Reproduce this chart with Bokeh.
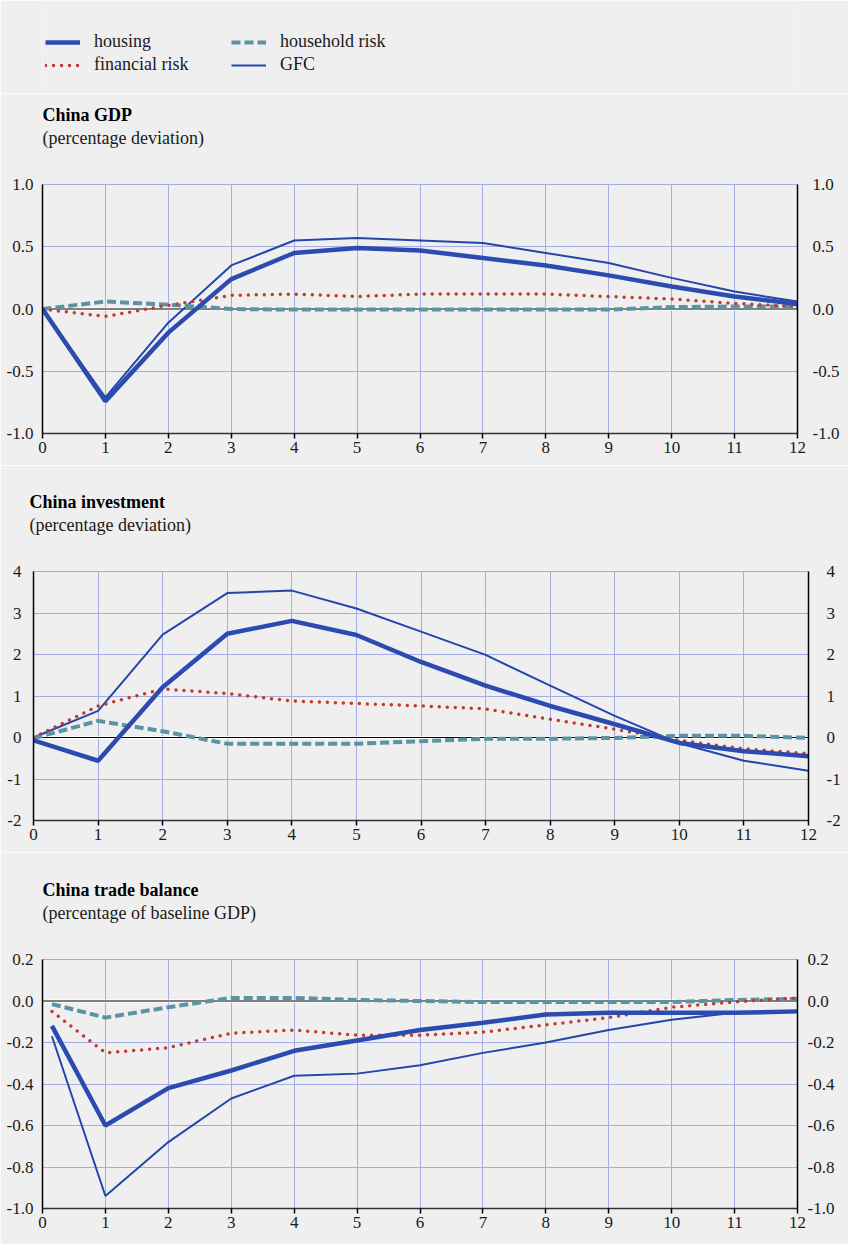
from bokeh.plotting import figure
from bokeh.models import (Legend, LegendItem, LinearAxis, FixedTicker,
                          PrintfTickFormatter, Span, Title, Range1d)
from bokeh.layouts import column
from bokeh.embed import file_html
from bokeh.resources import INLINE

# ---------------- data ----------------
quarters = list(range(13))
trade_quarters = [0.15] + list(range(1, 13))

series_names = ["housing", "financial risk", "household risk", "GFC"]

gdp_housing = [0.0, -0.74, -0.19, 0.24, 0.45, 0.49, 0.47, 0.41, 0.35, 0.27, 0.18, 0.10, 0.04]
gdp_financial = [0.0, -0.06, 0.03, 0.11, 0.12, 0.10, 0.12, 0.12, 0.12, 0.10, 0.08, 0.045, 0.02]
gdp_household = [0.0, 0.06, 0.035, 0.0, -0.005, -0.005, -0.005, -0.005, -0.005, -0.005, 0.015, 0.02, 0.02]
gdp_gfc = [0.0, -0.71, -0.11, 0.35, 0.55, 0.57, 0.55, 0.53, 0.45, 0.37, 0.25, 0.14, 0.06]

inv_housing = [-0.07, -0.56, 1.21, 2.50, 2.81, 2.47, 1.82, 1.25, 0.76, 0.32, -0.13, -0.33, -0.45]
inv_financial = [0.0, 0.76, 1.17, 1.06, 0.88, 0.82, 0.76, 0.69, 0.44, 0.20, -0.07, -0.27, -0.39]
inv_household = [-0.02, 0.40, 0.15, -0.15, -0.15, -0.15, -0.09, -0.03, -0.03, -0.01, 0.04, 0.04, -0.01]
inv_gfc = [0.0, 0.64, 2.48, 3.48, 3.54, 3.11, 2.55, 1.99, 1.25, 0.52, -0.14, -0.56, -0.80]

trade_housing = [-0.12, -0.60, -0.42, -0.335, -0.24, -0.19, -0.14, -0.105, -0.065, -0.057, -0.057, -0.057, -0.05]
trade_financial = [-0.05, -0.25, -0.225, -0.155, -0.14, -0.165, -0.165, -0.15, -0.115, -0.08, -0.03, -0.005, 0.015]
trade_household = [-0.015, -0.08, -0.03, 0.015, 0.015, 0.005, 0.0, -0.005, -0.005, -0.005, -0.005, 0.005, 0.01]
trade_gfc = [-0.17, -0.94, -0.68, -0.47, -0.36, -0.35, -0.31, -0.25, -0.20, -0.14, -0.09, -0.057, -0.05]

gdp_ticks = [-1.0, -0.5, 0.0, 0.5, 1.0]
inv_ticks = [-2, -1, 0, 1, 2, 3, 4]
trade_ticks = [-1.0, -0.8, -0.6, -0.4, -0.2, 0.0, 0.2]

# ---------------- styles ----------------
BG = "#efefef"
FONT = "Liberation Serif"
GRID = "#a4ace6"
STYLES = {
    "housing": dict(line_color="#2b4bb0", line_width=4.5),
    "financial risk": dict(line_color="#bf3b2c", line_width=3.5, line_dash="0 8", line_cap="round"),
    "household risk": dict(line_color="#5b93a4", line_width=4, line_dash="9 4"),
    "GFC": dict(line_color="#2446ab", line_width=2),
}

# ---------------- legend figure ----------------
# the series are drawn off-view here; only their legend glyphs show
leg = figure(width=848, height=93, x_range=Range1d(40, 41), y_range=Range1d(40, 41),
             toolbar_location=None, output_backend="svg", min_border=0,
             x_axis_location=None, y_axis_location=None, title=None,
             background_fill_color=BG, border_fill_color=BG)
leg.grid.visible = False
leg.outline_line_color = None
leg_data = {"housing": gdp_housing, "financial risk": gdp_financial,
            "household risk": gdp_household, "GFC": gdp_gfc}
rends = {n: leg.line(x=quarters, y=leg_data[n], **STYLES[n]) for n in series_names}


def make_legend(names, loc):
    return Legend(items=[LegendItem(label=n, renderers=[rends[n]]) for n in names],
                  location=loc, orientation="vertical",
                  label_text_font=FONT, label_text_font_size="18px",
                  label_text_color="#1a1a1a",
                  glyph_width=35, glyph_height=20, label_height=20,
                  label_standoff=14, spacing=2, padding=0, margin=0,
                  border_line_color=None, background_fill_alpha=0)


leg.add_layout(make_legend(["housing", "financial risk"], (3, 18)))
leg.add_layout(make_legend(["household risk", "GFC"], (189, 18)))


# ---------------- panels ----------------
def panel(title, subtitle, xs, data, yr, yticks, fmt, height, b_top, b_bottom,
          b_left, b_right, l_standoff, r_standoff, title_offset):
    p = figure(width=848, height=height, x_range=Range1d(0, 12), y_range=Range1d(*yr),
               toolbar_location=None, output_backend="svg", title=None,
               min_border_top=b_top, min_border_bottom=b_bottom,
               min_border_left=b_left, min_border_right=b_right,
               background_fill_color=BG, border_fill_color=BG)
    # spacer between plot area and the subtitle
    p.add_layout(Title(text="\u00a0", align="left", standoff=14,
                       text_font=FONT, text_font_size="18px"), "above")
    p.add_layout(Title(text=subtitle, align="left", offset=title_offset,
                       standoff=2, text_font=FONT, text_font_size="18px",
                       text_font_style="normal", text_color="#1a1a1a"), "above")
    p.add_layout(Title(text=title, align="left", offset=title_offset, standoff=0,
                       text_font=FONT, text_font_size="18px",
                       text_font_style="bold", text_color="#000000"), "above")
    p.outline_line_color = GRID
    p.outline_line_width = 1

    p.xaxis.ticker = FixedTicker(ticks=list(range(13)))
    p.yaxis.ticker = FixedTicker(ticks=yticks)
    p.yaxis.formatter = PrintfTickFormatter(format=fmt)
    p.add_layout(LinearAxis(ticker=FixedTicker(ticks=yticks),
                            formatter=PrintfTickFormatter(format=fmt)), "right")

    for ax in p.xaxis + p.yaxis:
        ax.major_label_text_font = FONT
        ax.major_label_text_font_size = "17px"
        ax.major_label_text_color = "#1a1a1a"
        ax.minor_tick_line_color = None
        ax.axis_line_color = "black"
        ax.axis_line_width = 1.5
    for ax in p.yaxis:
        ax.major_tick_line_color = None
        ax.major_tick_out = 0
        ax.major_tick_in = 0
    p.yaxis[0].major_label_standoff = l_standoff
    p.yaxis[1].major_label_standoff = r_standoff
    p.xaxis.major_tick_out = 5
    p.xaxis.major_tick_in = 0
    p.xaxis.major_tick_line_color = "black"
    p.xaxis.major_tick_line_width = 1.5
    p.xaxis.axis_line_color = "#333333"
    p.xaxis.major_label_standoff = 3

    p.grid.grid_line_color = GRID
    p.grid.grid_line_width = 1

    p.add_layout(Span(location=0, dimension="width", line_color="white",
                      line_width=3, level="underlay"))
    p.add_layout(Span(location=0, dimension="width", line_color="black",
                      line_width=1, level="underlay"))

    for name in ["GFC", "household risk", "financial risk", "housing"]:
        p.line(x=xs, y=data[name], **STYLES[name])
    return p


p1 = panel("China GDP", "(percentage deviation)", quarters,
           {"housing": gdp_housing, "financial risk": gdp_financial,
            "household risk": gdp_household, "GFC": gdp_gfc},
           (-1.0, 1.0), gdp_ticks, "%.1f", 372, 91, 32, 42, 50, 9, 15, 0)
p2 = panel("China investment", "(percentage deviation)", quarters,
           {"housing": inv_housing, "financial risk": inv_financial,
            "household risk": inv_household, "GFC": inv_gfc},
           (-2, 4), inv_ticks, "%d", 387, 106, 32, 33, 40, 12, 18, -4)
p3 = panel("China trade balance", "(percentage of baseline GDP)", trade_quarters,
           {"housing": trade_housing, "financial risk": trade_financial,
            "household risk": trade_household, "GFC": trade_gfc},
           (-1.0, 0.2), trade_ticks, "%.1f", 392, 107, 36, 42, 51, 9, 10, 0)

layout = column(leg, p1, column(p2, spacing=0), p3, spacing=0)
open("out.html", "w").write(file_html(layout, INLINE))
